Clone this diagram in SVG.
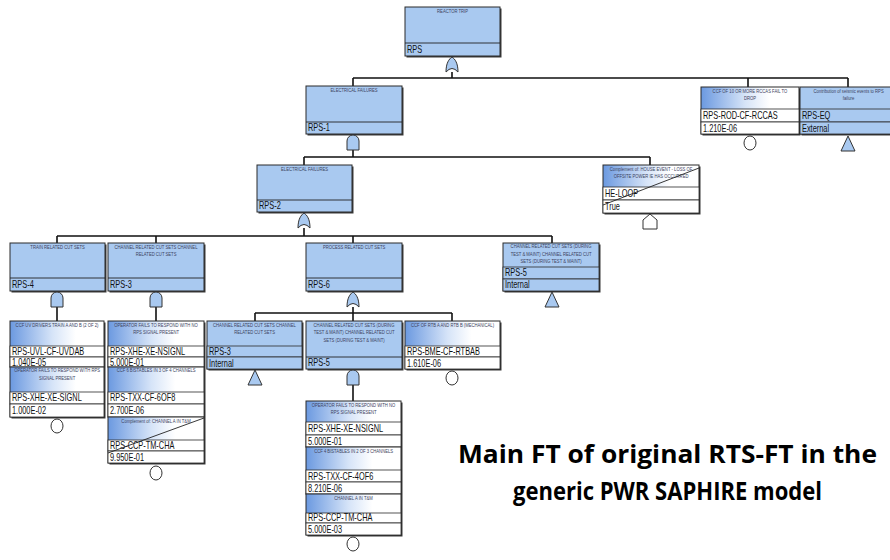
<svg xmlns="http://www.w3.org/2000/svg" width="890" height="560" viewBox="0 0 890 560">
<style>
.box{fill:#a9c9f0;stroke:#2b2b2b;stroke-width:1}
.be{fill:url(#beg);stroke:#2b2b2b;stroke-width:1}
.row{fill:#fff;stroke:#2b2b2b;stroke-width:0.8}
.brow{fill:#a9c9f0;stroke:#2b2b2b;stroke-width:0.8}
.sh{fill:#3a3a3a}
.diag{stroke:#222;stroke-width:0.9}
.ttl{font-family:"Liberation Sans",Arial,sans-serif;font-size:6px;fill:#3c4260;text-anchor:middle;transform-box:fill-box;transform-origin:50% 50%;transform:scaleX(0.7)}
.id{font-family:"Liberation Sans",Arial,sans-serif;font-size:10px;fill:#111;transform-box:fill-box;transform-origin:0 50%;transform:scaleX(0.74)}
.wire{fill:none;stroke:#111;stroke-width:1.6}
.gate{fill:#a9c9f0;stroke:#333;stroke-width:1}
.evt{fill:#fff;stroke:#333;stroke-width:1}
.cap{font-family:"Open Sans","Noto Sans",sans-serif;font-weight:bold;font-size:25px;fill:#000}
</style>
<defs>
<linearGradient id="beg" x1="0" y1="0" x2="1" y2="0">
<stop offset="0" stop-color="#6b99e0"/>
<stop offset="0.45" stop-color="#d6e4f8"/>
<stop offset="0.7" stop-color="#ffffff"/>
</linearGradient>
<path id="g-or" class="gate" d="M-6,15 C-6,6 -3,2 0,0 C3,2 6,6 6,15 Q0,8 -6,15 Z"/>
<path id="g-and" class="gate" d="M-6,15 V6 A6,6 0 0 1 6,6 V15 Z"/>
<ellipse id="g-be" class="evt" cx="0" cy="7" rx="6" ry="7"/>
<path id="g-tr" class="gate" d="M0,0 L7,15 L-7,15 Z"/>
<path id="g-house" class="evt" d="M-7,15 V6 L0,0 L7,6 V15 Z"/>
</defs>
<rect width="890" height="560" fill="#fff"/>

<g id="connectors">
<path class="wire" d="M452,72 V78 M353,78 H848 M353,78 V86 M748,78 V87 M848,78 V87"/>
<path class="wire" d="M353,150 V157 M304,157 H650 M304,157 V165 M650,157 V165"/>
<path class="wire" d="M304,228 V236 M57,236 H552 M57,236 V243 M156,236 V243 M353,236 V243 M552,236 V243"/>
<path class="wire" d="M57,307 V321 M156,307 V321"/>
<path class="wire" d="M353,307 V313 M255,313 H452 M255,313 V321 M353,313 V321 M452,313 V321"/>
<path class="wire" d="M353,385 V401"/>
</g>

<g id="n-rps">
<rect class="sh" x="406.5" y="8.5" width="95" height="49"/>
<rect class="box" x="405" y="7" width="95" height="49"/>
<line class="diag" x1="405" y1="43" x2="500" y2="43"/>
<text class="ttl" x="452.5" y="13">REACTOR TRIP</text>
<text class="id" x="407" y="53">RPS</text>
<use href="#g-or" x="452" y="57"/>
</g>

<g id="n-rps1">
<rect class="sh" x="307.5" y="87.5" width="96" height="48"/>
<rect class="box" x="306" y="86" width="96" height="48"/>
<line class="diag" x1="306" y1="122" x2="402" y2="122"/>
<text class="ttl" x="354" y="92">ELECTRICAL FAILURES</text>
<text class="id" x="308" y="131.5">RPS-1</text>
<use href="#g-and" x="353" y="135"/>
</g>

<g id="n-rccas">
<rect class="sh" x="702.5" y="88.5" width="98" height="47"/>
<rect class="be" x="701" y="87" width="98" height="47"/>
<rect class="row" x="701" y="109" width="98" height="13"/>
<rect class="row" x="701" y="122" width="98" height="12"/>
<text class="ttl" x="750" y="93">CCF OF 10 OR MORE RCCAS FAIL TO</text>
<text class="ttl" x="750" y="100.5">DROP</text>
<text class="id" x="703" y="119.5">RPS-ROD-CF-RCCAS</text>
<text class="id" x="703" y="132">1.210E-06</text>
<use href="#g-be" x="750" y="136"/>
</g>

<g id="n-rpseq">
<rect class="sh" x="801.5" y="88.5" width="97" height="47"/>
<rect class="box" x="800" y="87" width="97" height="47"/>
<rect class="brow" x="800" y="109" width="97" height="13"/>
<rect class="brow" x="800" y="122" width="97" height="12"/>
<text class="ttl" x="848.5" y="93">Contribution of seismic events to RPS</text>
<text class="ttl" x="848.5" y="100.5">failure</text>
<text class="id" x="802" y="119.5">RPS-EQ</text>
<text class="id" x="802" y="132">External</text>
<use href="#g-tr" x="848" y="136"/>
</g>

<g id="n-rps2">
<rect class="sh" x="258.5" y="166.5" width="95" height="47"/>
<rect class="box" x="257" y="165" width="95" height="47"/>
<line class="diag" x1="257" y1="200" x2="352" y2="200"/>
<text class="ttl" x="304.5" y="171">ELECTRICAL FAILURES</text>
<text class="id" x="259" y="209.5">RPS-2</text>
<use href="#g-or" x="304" y="213"/>
</g>

<g id="n-heloop">
<rect class="sh" x="604.5" y="166.5" width="96" height="48"/>
<rect class="be" x="603" y="165" width="96" height="48"/>
<rect class="row" x="603" y="187" width="96" height="13"/>
<rect class="row" x="603" y="200" width="96" height="13"/>
<text class="ttl" x="651" y="171">Complement of: HOUSE EVENT - LOSS OF</text>
<text class="ttl" x="651" y="178.5">OFFSITE POWER IE HAS OCCURRED</text>
<text class="id" x="605" y="197.5">HE-LOOP</text>
<text class="id" x="605" y="210.5">True</text>
<line class="diag" x1="603" y1="205" x2="699" y2="168"/>
<use href="#g-house" x="650" y="214"/>
</g>

<g id="n-rps4">
<rect class="sh" x="11.5" y="244.5" width="95" height="48"/>
<rect class="box" x="10" y="243" width="95" height="48"/>
<line class="diag" x1="10" y1="278" x2="105" y2="278"/>
<text class="ttl" x="57.5" y="249">TRAIN RELATED CUT SETS</text>
<text class="id" x="12" y="288">RPS-4</text>
<use href="#g-and" x="57" y="292"/>
</g>

<g id="n-rps3">
<rect class="sh" x="109.5" y="244.5" width="96" height="48"/>
<rect class="box" x="108" y="243" width="96" height="48"/>
<line class="diag" x1="108" y1="278" x2="204" y2="278"/>
<text class="ttl" x="156" y="249">CHANNEL RELATED CUT SETS CHANNEL</text>
<text class="ttl" x="156" y="256.5">RELATED CUT SETS</text>
<text class="id" x="110" y="288">RPS-3</text>
<use href="#g-and" x="156" y="292"/>
</g>

<g id="n-rps6">
<rect class="sh" x="307.5" y="244.5" width="96" height="48"/>
<rect class="box" x="306" y="243" width="96" height="48"/>
<line class="diag" x1="306" y1="278" x2="402" y2="278"/>
<text class="ttl" x="354" y="249">PROCESS RELATED CUT SETS</text>
<text class="id" x="308" y="288">RPS-6</text>
<use href="#g-or" x="353" y="292"/>
</g>

<g id="n-rps5a">
<rect class="sh" x="504.5" y="244.5" width="96" height="48"/>
<rect class="box" x="503" y="243" width="96" height="48"/>
<rect class="brow" x="503" y="267" width="96" height="12"/>
<rect class="brow" x="503" y="279" width="96" height="12"/>
<text class="ttl" x="551" y="248.5">CHANNEL RELATED CUT SETS (DURING</text>
<text class="ttl" x="551" y="256">TEST &amp; MAINT) CHANNEL RELATED CUT</text>
<text class="ttl" x="551" y="263.5">SETS (DURING TEST &amp; MAINT)</text>
<text class="id" x="505" y="276.5">RPS-5</text>
<text class="id" x="505" y="288.5">Internal</text>
<use href="#g-tr" x="552" y="292"/>
</g>

<g id="n-stack1">
<rect class="sh" x="11.5" y="322.5" width="94" height="96"/>
<rect class="be" x="10" y="321" width="94" height="46"/>
<rect class="row" x="10" y="346" width="94" height="11"/>
<rect class="row" x="10" y="357" width="94" height="10"/>
<text class="ttl" x="57" y="327">CCF UV DRIVERS TRAIN A AND B (2 OF 2)</text>
<text class="id" x="12" y="355.5">RPS-UVL-CF-UVDAB</text>
<text class="id" x="12" y="366">1.040E-05</text>
<rect class="be" x="10" y="367" width="94" height="50"/>
<rect class="row" x="10" y="392" width="94" height="12"/>
<rect class="row" x="10" y="404" width="94" height="13"/>
<text class="ttl" x="57" y="372.5">OPERATOR FAILS TO RESPOND WITH RPS</text>
<text class="ttl" x="57" y="380">SIGNAL PRESENT</text>
<text class="id" x="12" y="401.5">RPS-XHE-XE-SIGNL</text>
<text class="id" x="12" y="414">1.000E-02</text>
<use href="#g-be" x="57" y="419"/>
</g>

<g id="n-stack2">
<rect class="sh" x="109.5" y="322.5" width="96" height="142"/>
<rect class="be" x="108" y="321" width="96" height="46"/>
<rect class="row" x="108" y="346" width="96" height="11"/>
<rect class="row" x="108" y="357" width="96" height="10"/>
<text class="ttl" x="156" y="327">OPERATOR FAILS TO RESPOND WITH NO</text>
<text class="ttl" x="156" y="334.5">RPS SIGNAL PRESENT</text>
<text class="id" x="110" y="355.5">RPS-XHE-XE-NSIGNL</text>
<text class="id" x="110" y="366">5.000E-01</text>
<rect class="be" x="108" y="367" width="96" height="50"/>
<rect class="row" x="108" y="392" width="96" height="12"/>
<rect class="row" x="108" y="404" width="96" height="13"/>
<text class="ttl" x="156" y="372.5">CCF 6 BISTABLES IN 3 OF 4 CHANNELS</text>
<text class="id" x="110" y="401.5">RPS-TXX-CF-6OF8</text>
<text class="id" x="110" y="414">2.700E-06</text>
<rect class="be" x="108" y="417" width="96" height="46"/>
<rect class="row" x="108" y="440" width="96" height="11"/>
<rect class="row" x="108" y="451" width="96" height="12"/>
<text class="ttl" x="156" y="423">Complement of: CHANNEL A IN T&amp;M</text>
<text class="id" x="110" y="449.5">RPS-CCP-TM-CHA</text>
<text class="id" x="110" y="461">9.950E-01</text>
<line class="diag" x1="108" y1="453" x2="204" y2="418"/>
<use href="#g-be" x="156" y="466"/>
</g>

<g id="n-rps3b">
<rect class="sh" x="208.5" y="322.5" width="95" height="48"/>
<rect class="box" x="207" y="321" width="95" height="48"/>
<rect class="brow" x="207" y="346" width="95" height="11"/>
<rect class="brow" x="207" y="357" width="95" height="12"/>
<text class="ttl" x="254.5" y="327">CHANNEL RELATED CUT SETS CHANNEL</text>
<text class="ttl" x="254.5" y="334.5">RELATED CUT SETS</text>
<text class="id" x="209" y="355.5">RPS-3</text>
<text class="id" x="209" y="367">Internal</text>
<use href="#g-tr" x="255" y="370"/>
</g>

<g id="n-rps5b">
<rect class="sh" x="307.5" y="322.5" width="96" height="48"/>
<rect class="box" x="306" y="321" width="96" height="48"/>
<line class="diag" x1="306" y1="357" x2="402" y2="357"/>
<text class="ttl" x="354" y="327">CHANNEL RELATED CUT SETS (DURING</text>
<text class="ttl" x="354" y="334.5">TEST &amp; MAINT) CHANNEL RELATED CUT</text>
<text class="ttl" x="354" y="342">SETS (DURING TEST &amp; MAINT)</text>
<text class="id" x="308" y="366.5">RPS-5</text>
<use href="#g-and" x="353" y="370"/>
</g>

<g id="n-rtbab">
<rect class="sh" x="406.5" y="322.5" width="95" height="48"/>
<rect class="be" x="405" y="321" width="95" height="48"/>
<rect class="row" x="405" y="346" width="95" height="11"/>
<rect class="row" x="405" y="357" width="95" height="12"/>
<text class="ttl" x="452.5" y="327">CCF OF RTB A AND RTB B (MECHANICAL)</text>
<text class="id" x="407" y="355.5">RPS-BME-CF-RTBAB</text>
<text class="id" x="407" y="367">1.610E-06</text>
<use href="#g-be" x="452" y="371"/>
</g>

<g id="n-stack3">
<rect class="sh" x="307.5" y="402.5" width="95" height="134"/>
<rect class="be" x="306" y="401" width="95" height="46"/>
<rect class="row" x="306" y="422" width="95" height="13"/>
<rect class="row" x="306" y="435" width="95" height="12"/>
<text class="ttl" x="353.5" y="407">OPERATOR FAILS TO RESPOND WITH NO</text>
<text class="ttl" x="353.5" y="414.5">RPS SIGNAL PRESENT</text>
<text class="id" x="308" y="432.5">RPS-XHE-XE-NSIGNL</text>
<text class="id" x="308" y="445">5.000E-01</text>
<rect class="be" x="306" y="447" width="95" height="47"/>
<rect class="row" x="306" y="470" width="95" height="12"/>
<rect class="row" x="306" y="482" width="95" height="12"/>
<text class="ttl" x="353.5" y="453">CCF 4 BISTABLES IN 2 OF 3 CHANNELS</text>
<text class="id" x="308" y="480">RPS-TXX-CF-4OF6</text>
<text class="id" x="308" y="492">8.210E-06</text>
<rect class="be" x="306" y="494" width="95" height="41"/>
<rect class="row" x="306" y="513" width="95" height="10"/>
<rect class="row" x="306" y="523" width="95" height="12"/>
<text class="ttl" x="353.5" y="500">CHANNEL A IN T&amp;M</text>
<text class="id" x="308" y="521.5">RPS-CCP-TM-CHA</text>
<text class="id" x="308" y="533">5.000E-03</text>
<use href="#g-be" x="353" y="537"/>
</g>

<g id="caption">
<text class="cap" x="458" y="463" textLength="419" lengthAdjust="spacingAndGlyphs">Main FT of original RTS-FT in the</text>
<text class="cap" x="513" y="500" textLength="309" lengthAdjust="spacingAndGlyphs">generic PWR SAPHIRE model</text>
</g>
</svg>
